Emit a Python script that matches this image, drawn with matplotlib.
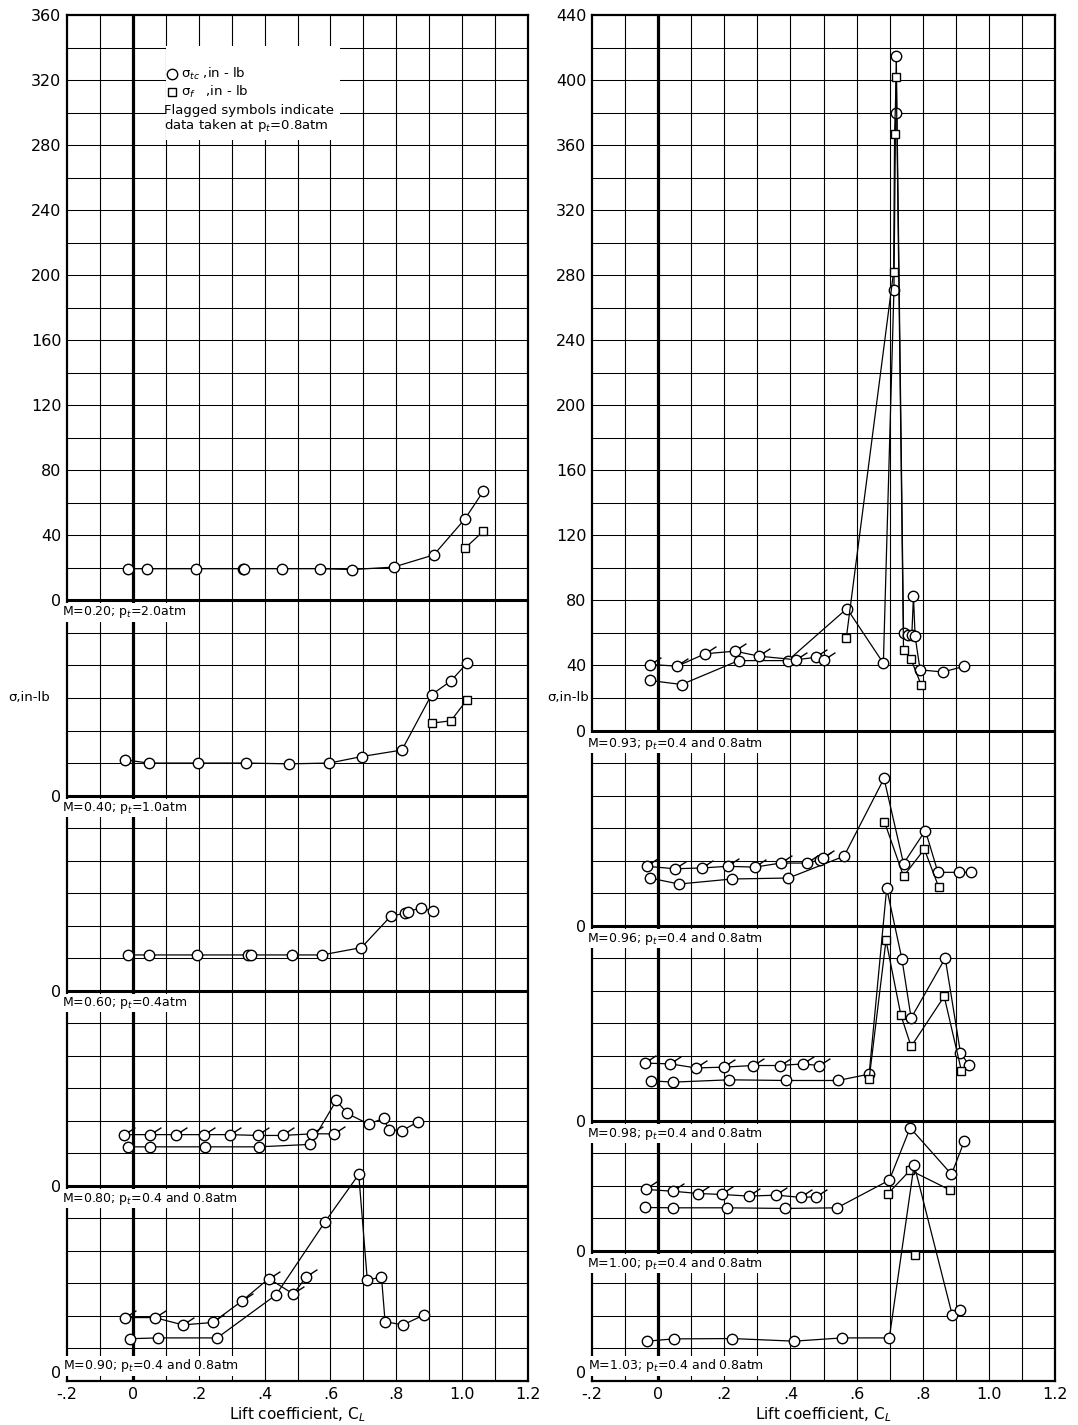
import numpy as np
import matplotlib
matplotlib.use("Agg")
import matplotlib.pyplot as plt
from matplotlib.path import Path
from matplotlib.markers import MarkerStyle
from matplotlib.patches import Rectangle

plt.rcParams['font.family'] = ['DejaVu Sans']

# ---------------- data ----------------
xtick_vals = [-0.2, 0.0, 0.2, 0.4, 0.6, 0.8, 1.0, 1.2]
xtick_labels = ["-.2", "0", ".2", ".4", ".6", ".8", "1.0", "1.2"]

# ----- left panel -----
m20_c_x = [-0.015, 0.044, 0.193, 0.333, 0.338, 0.452, 0.569, 0.667, 0.792, 0.914, 1.008, 1.064]
m20_c_y = [19.5, 19.5, 19.5, 19.5, 19.5, 19.5, 19.5, 19.0, 20.5, 28.0, 50.0, 67.0]
m20_s_x = [1.008, 1.064]
m20_s_y = [32.0, 42.5]

m40_c_x = [-0.025, 0.048, 0.198, 0.345, 0.475, 0.597, 0.695, 0.817, 0.907, 0.966, 1.015]
m40_c_y = [22.0, 20.0, 20.0, 20.0, 19.5, 20.0, 24.0, 28.0, 62.0, 70.5, 81.5]
m40_s_x = [0.907, 0.966, 1.015]
m40_s_y = [44.5, 46.0, 59.0]

m60_c_x = [-0.015, 0.05, 0.195, 0.35, 0.36, 0.482, 0.574, 0.694, 0.784, 0.825, 0.835, 0.875, 0.91]
m60_c_y = [22.0, 22.0, 22.0, 22.0, 22.0, 22.0, 22.0, 26.5, 46.0, 47.5, 48.5, 51.0, 49.0]

m80_c_x = [-0.015, 0.053, 0.22, 0.383, 0.539, 0.618, 0.651, 0.716, 0.762, 0.777, 0.818, 0.867]
m80_c_y = [24.0, 24.0, 24.0, 24.0, 25.5, 52.5, 44.5, 38.0, 41.5, 34.5, 34.0, 39.5]
m80_f_x = [-0.028, 0.053, 0.132, 0.215, 0.294, 0.38, 0.455, 0.544, 0.61]
m80_f_y = [31.5, 31.5, 31.5, 31.5, 31.5, 31.0, 31.0, 32.0, 32.0]

m90_c_x = [-0.01, 0.077, 0.256, 0.435, 0.584, 0.686, 0.712, 0.755, 0.766, 0.82, 0.883]
m90_c_y = [26.0, 26.5, 26.5, 53.0, 98.0, 127.0, 62.0, 64.0, 36.5, 34.5, 40.5]
m90_f_x = [-0.024, 0.066, 0.152, 0.243, 0.33, 0.413, 0.487, 0.527]
m90_f_y = [39.0, 39.0, 34.5, 36.0, 49.0, 63.0, 53.5, 64.0]

# ----- right panel -----
m93_c_x = [-0.026, 0.071, 0.243, 0.392, 0.571, 0.681, 0.713, 0.718, 0.72, 0.742, 0.757, 0.767, 0.772, 0.777, 0.792, 0.861, 0.924]
m93_c_y = [30.8, 28.3, 43.0, 43.0, 75.0, 41.4, 271.0, 380.0, 415.0, 60.0, 59.0, 58.5, 82.5, 58.0, 37.3, 36.0, 39.4]
m93_f_x = [-0.026, 0.058, 0.142, 0.232, 0.306, 0.417, 0.476, 0.503]
m93_f_y = [40.6, 39.6, 47.2, 48.8, 45.7, 43.5, 45.0, 43.5]
m93_s_x = [0.569, 0.712, 0.715, 0.72, 0.742, 0.764, 0.795]
m93_s_y = [57.0, 282.0, 367.0, 402.0, 49.6, 44.0, 28.3]

m96_c_x = [-0.025, 0.063, 0.223, 0.394, 0.562, 0.683, 0.742, 0.808, 0.846, 0.909, 0.947]
m96_c_y = [29.3, 25.6, 28.7, 29.3, 42.7, 90.5, 38.2, 58.5, 32.8, 32.8, 32.8]
m96_f_x = [-0.035, 0.051, 0.134, 0.21, 0.293, 0.37, 0.451, 0.49, 0.498]
m96_f_y = [36.5, 35.0, 35.5, 36.5, 36.0, 38.5, 38.5, 40.5, 41.5]
m96_s_x = [0.684, 0.742, 0.805, 0.848]
m96_s_y = [64.0, 30.4, 47.0, 24.0]

m98_c_x = [-0.023, 0.046, 0.215, 0.387, 0.544, 0.638, 0.691, 0.737, 0.765, 0.868, 0.914, 0.939]
m98_c_y = [24.6, 23.8, 25.2, 24.8, 24.8, 28.7, 143.0, 99.7, 63.2, 100.0, 42.0, 34.5]
m98_f_x = [-0.041, 0.037, 0.115, 0.198, 0.286, 0.367, 0.438, 0.486]
m98_f_y = [35.5, 35.0, 32.5, 33.0, 34.0, 34.0, 35.0, 34.0]
m98_s_x = [0.638, 0.689, 0.734, 0.765, 0.865, 0.917]
m98_s_y = [25.8, 111.0, 65.0, 45.7, 76.5, 30.8]

m100_c_x = [-0.039, 0.044, 0.209, 0.385, 0.541, 0.699, 0.762, 0.887, 0.926]
m100_c_y = [26.7, 26.5, 26.5, 26.1, 26.5, 43.5, 75.7, 47.1, 67.6]
m100_f_x = [-0.037, 0.044, 0.122, 0.193, 0.276, 0.357, 0.433, 0.477]
m100_f_y = [37.8, 36.7, 35.3, 34.7, 33.7, 34.3, 32.9, 33.3]
m100_s_x = [0.694, 0.762, 0.884]
m100_s_y = [35.0, 49.6, 37.3]

m103_c_x = [-0.034, 0.047, 0.224, 0.411, 0.557, 0.699, 0.774, 0.889, 0.914]
m103_c_y = [24.5, 25.9, 26.1, 24.5, 26.5, 26.5, 133.0, 40.8, 43.9]
m103_s_x = [0.776]
m103_s_y = [77.5]

left_labels = ["M=0.20; p$_{t}$=2.0atm", "M=0.40; p$_{t}$=1.0atm", "M=0.60; p$_{t}$=0.4atm",
               "M=0.80; p$_{t}$=0.4 and 0.8atm", "M=0.90; p$_{t}$=0.4 and 0.8atm"]
left_bases = [480, 360, 240, 120, 0]
right_labels = ["M=0.93; p$_{t}$=0.4 and 0.8atm", "M=0.96; p$_{t}$=0.4 and 0.8atm",
                "M=0.98; p$_{t}$=0.4 and 0.8atm", "M=1.00; p$_{t}$=0.4 and 0.8atm",
                "M=1.03; p$_{t}$=0.4 and 0.8atm"]
right_bases = [400, 280, 160, 80, 0]
left_top_ticks = list(range(0, 361, 40))
right_top_ticks = list(range(0, 441, 40))
TOTAL = 840

# ---------------- styling helpers ----------------
circle = Path.unit_circle()
flag_path = Path.make_compound_path(circle, Path([[0.77, 0.64], [2.1, 1.5]]))
flag_marker = MarkerStyle(flag_path)
MS = 7.5
FLAG_MS = MS * 2.1

fig = plt.figure(figsize=(10.78, 14.25), dpi=100)
W, H = 1078, 1425
axL = fig.add_axes([67 / W, 44 / H, 461 / W, 1366 / H])
axR = fig.add_axes([592 / W, 44 / H, 463 / W, 1366 / H])


def setup(ax, bases, labels, top_ticks):
    ax.set_xlim(-0.2, 1.2)
    ax.set_ylim(0, TOTAL)
    for xv in np.arange(-0.1, 1.15, 0.1):
        if abs(xv) < 1e-9:
            ax.axvline(0, color='k', lw=2.3, zorder=1.5)
        else:
            ax.axvline(xv, color='k', lw=0.8, zorder=1)
    for yv in range(20, TOTAL, 20):
        if yv in bases:
            ax.axhline(yv, color='k', lw=2.2, zorder=1.5)
        else:
            ax.axhline(yv, color='k', lw=0.75, zorder=1)
    for s in ax.spines.values():
        s.set_linewidth(1.6)
    top_base = bases[0]
    yt = [top_base + v for v in top_ticks] + [b for b in bases[1:] if b > 0]
    yl = [str(v) for v in top_ticks] + ["0" for b in bases[1:] if b > 0]
    ax.set_yticks(yt)
    ax.set_yticklabels(yl, fontsize=11.5)
    ax.set_xticks(xtick_vals)
    ax.set_xticklabels(xtick_labels, fontsize=11.5)
    ax.tick_params(length=0, pad=4)
    ax.set_xlabel("Lift coefficient, C$_L$", fontsize=11, labelpad=3)
    # zero of the bottom section, raised slightly so it clears the x tick label
    ax.annotate("0", xy=(0, 0), xycoords='axes fraction', xytext=(-4, 0),
                textcoords='offset points', ha='right', va='bottom', fontsize=11.5)
    for b, lab in zip(bases, labels):
        if b == 0:
            ax.text(-0.212, b + 4, lab, fontsize=9, ha='left', va='bottom', zorder=3,
                    bbox=dict(facecolor='white', edgecolor='none', pad=0.8), clip_on=False)
        else:
            ax.text(-0.215, b - 2.5, lab, fontsize=9, ha='left', va='top', zorder=3,
                    bbox=dict(facecolor='white', edgecolor='none', pad=0.8), clip_on=False)


def plot_series(ax, base, x, y, kind, line=True):
    yy = base + np.asarray(y)
    ls = '-' if line else 'none'
    if kind == 'c':
        ax.plot(x, yy, ls, color='k', lw=0.9, marker='o', ms=MS, mfc='white', mec='k',
                mew=1.0, zorder=4, clip_on=False)
    elif kind == 'f':
        ax.plot(x, yy, ls, color='k', lw=0.9, marker=flag_marker, ms=FLAG_MS, mfc='white',
                mec='k', mew=1.0, zorder=4, clip_on=False)
    else:
        ax.plot(x, yy, ls, color='k', lw=0.9, marker='s', ms=6.2, mfc='white', mec='k',
                mew=1.0, zorder=4, clip_on=False)


setup(axL, left_bases, left_labels, left_top_ticks)
setup(axR, right_bases, right_labels, right_top_ticks)

# left panel curves
plot_series(axL, 480, m20_c_x, m20_c_y, 'c')
plot_series(axL, 480, m20_s_x, m20_s_y, 's', line=False)
plot_series(axL, 360, m40_c_x, m40_c_y, 'c')
plot_series(axL, 360, m40_s_x, m40_s_y, 's', line=False)
plot_series(axL, 240, m60_c_x, m60_c_y, 'c')
plot_series(axL, 120, m80_c_x, m80_c_y, 'c')
plot_series(axL, 120, m80_f_x, m80_f_y, 'f')
plot_series(axL, 0, m90_c_x, m90_c_y, 'c')
plot_series(axL, 0, m90_f_x, m90_f_y, 'f')

# right panel curves
plot_series(axR, 400, m93_c_x, m93_c_y, 'c')
plot_series(axR, 400, m93_f_x, m93_f_y, 'f')
plot_series(axR, 400, m93_s_x, m93_s_y, 's', line=False)
plot_series(axR, 280, m96_c_x, m96_c_y, 'c')
plot_series(axR, 280, m96_f_x, m96_f_y, 'f')
plot_series(axR, 280, m96_s_x, m96_s_y, 's', line=False)
plot_series(axR, 160, m98_c_x, m98_c_y, 'c')
plot_series(axR, 160, m98_f_x, m98_f_y, 'f')
plot_series(axR, 160, m98_s_x, m98_s_y, 's', line=False)
plot_series(axR, 80, m100_c_x, m100_c_y, 'c')
plot_series(axR, 80, m100_f_x, m100_f_y, 'f')
plot_series(axR, 80, m100_s_x, m100_s_y, 's', line=False)
plot_series(axR, 0, m103_c_x, m103_c_y, 'c')
plot_series(axR, 0, m103_s_x, m103_s_y, 's', line=False)

# legend box (left panel, top section)
axL.add_patch(Rectangle((0.1, 763), 0.53, 58, facecolor='white', edgecolor='none', zorder=2.5))
axL.plot([0.12], [804], 'o', ms=MS, mfc='white', mec='k', mew=1.0, zorder=4)
axL.text(0.145, 804, "σ$_{tc}$ ,in - lb", fontsize=9.5, va='center', ha='left', zorder=4)
axL.plot([0.12], [792.5], 's', ms=6.2, mfc='white', mec='k', mew=1.0, zorder=4)
axL.text(0.145, 792.5, "σ$_{f}$   ,in - lb", fontsize=9.5, va='center', ha='left', zorder=4)
axL.text(0.095, 781.5, "Flagged symbols indicate", fontsize=9.5, va='center', ha='left', zorder=4)
axL.text(0.095, 772, "data taken at p$_{t}$=0.8atm", fontsize=9.5, va='center', ha='left', zorder=4)

# y axis labels
fig.text(8 / W, 1 - 697 / H, "σ,in-lb", fontsize=9.5, ha='left', va='center')
fig.text(589 / W, 1 - 697 / H, "σ,in-lb", fontsize=9.5, ha='right', va='center')

fig.savefig("out.png", dpi=100, facecolor='white')
